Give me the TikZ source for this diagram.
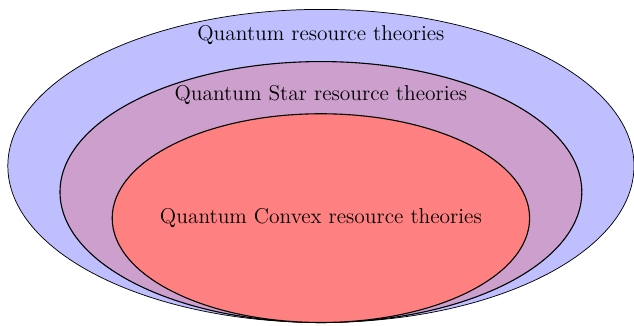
\documentclass[tikz,border=0pt]{standalone}
\usepackage{tikz}
\usetikzlibrary{shapes.geometric}
\definecolor{starcol}{RGB}{205,159,205}

\begin{document}
\begin{tikzpicture}[
  region/.style={draw,ellipse,inner sep=0pt},
  lbl/.style={font=\fontsize{11.7}{14}\selectfont,align=center}
]
\useasboundingbox (-6.15,-3.05) rectangle (6.0,3.18);
\node[region,fill=blue!25,minimum width=12cm,minimum height=6cm] (qrt) at (0,0) {};
\node[region,semithick,fill=starcol,minimum width=10cm,minimum height=5cm] (star) at (0,-0.5) {};
\node[region,semithick,fill=red!50,minimum width=8cm,minimum height=4cm] (convex) at (0,-1) {};
\node[lbl] (qrtlbl) at (0,2.51) {Quantum resource theories};
\node[lbl] (starlbl) at (0,1.36) {Quantum Star resource theories};
\node[lbl] (convexlbl) at (convex.center) {Quantum Convex resource theories};
\end{tikzpicture}
\end{document}
